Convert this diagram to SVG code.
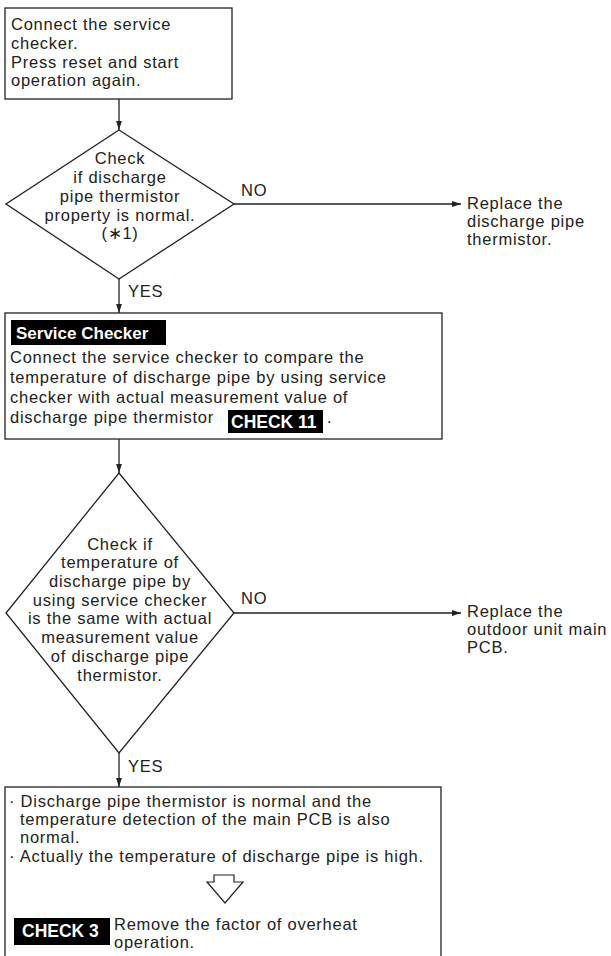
<svg xmlns="http://www.w3.org/2000/svg" width="611" height="956" viewBox="0 0 611 956">
<style>
.box{fill:#fff;stroke:#222;stroke-width:1.3}
.ln{stroke:#222;stroke-width:1.3;fill:none}
text{font-family:"Liberation Sans",Arial,sans-serif;font-size:16.5px;letter-spacing:0.75px;fill:#222}
.c{text-anchor:middle}
.tag{fill:#000}
.tagt{fill:#fff;font-weight:bold;font-size:17.5px;letter-spacing:0}
</style>
<defs>
<marker id="ah" viewBox="0 0 10 10" refX="10" refY="5" markerWidth="9" markerHeight="9" markerUnits="userSpaceOnUse" orient="auto"><path d="M0,1.8 L10,5 L0,8.2 z" fill="#222"/></marker>
</defs>
<rect width="611" height="956" fill="#fff"/>
<g id="connectors">
<line class="ln" x1="119" y1="99" x2="119" y2="130" marker-end="url(#ah)"/>
<line class="ln" x1="234" y1="204" x2="461" y2="204" marker-end="url(#ah)"/>
<text x="241" y="196">NO</text>
<line class="ln" x1="119" y1="279" x2="119" y2="313" marker-end="url(#ah)"/>
<text x="128" y="297">YES</text>
<line class="ln" x1="119" y1="439" x2="119" y2="473" marker-end="url(#ah)"/>
<line class="ln" x1="234" y1="613" x2="461" y2="613" marker-end="url(#ah)"/>
<text x="241" y="604">NO</text>
<line class="ln" x1="119" y1="753" x2="119" y2="787" marker-end="url(#ah)"/>
<text x="128" y="772">YES</text>
</g>
<g id="start">
<rect class="box" x="5" y="8" width="227" height="91"/>
<text x="11" y="30">Connect the service</text>
<text x="11" y="49">checker.</text>
<text x="11" y="68">Press reset and start</text>
<text x="11" y="86">operation again.</text>
</g>
<g id="check1">
<polygon class="box" points="119,130 234,204 119,279 6,204"/>
<text class="c" x="120" y="164">Check</text>
<text class="c" x="120" y="183">if discharge</text>
<text class="c" x="120" y="202">pipe thermistor</text>
<text class="c" x="120" y="221">property is normal.</text>
<text class="c" x="120" y="239">(∗1)</text>
</g>
<g id="replace1">
<text x="467" y="209">Replace the</text>
<text x="467" y="227">discharge pipe</text>
<text x="467" y="245">thermistor.</text>
</g>
<g id="service">
<rect class="box" x="5" y="313" width="437" height="126"/>
<rect class="tag" x="11" y="320" width="155" height="25"/>
<text class="tagt" x="16" y="339" style="font-size:17px">Service Checker</text>
<text x="10" y="363">Connect the service checker to compare the</text>
<text x="10" y="383">temperature of discharge pipe by using service</text>
<text x="10" y="403">checker with actual measurement value of</text>
<text x="10" y="423">discharge pipe thermistor</text>
<rect class="tag" x="228" y="410" width="95" height="23"/>
<text class="tagt" x="231" y="428">CHECK 11</text>
<text x="327" y="423">.</text>
</g>
<g id="check2">
<polygon class="box" points="119,473 234,613 119,753 6,613"/>
<text class="c" x="120" y="550">Check if</text>
<text class="c" x="120" y="568">temperature of</text>
<text class="c" x="120" y="587">discharge pipe by</text>
<text class="c" x="120" y="606">using service checker</text>
<text class="c" x="120" y="624">is the same with actual</text>
<text class="c" x="120" y="643">measurement value</text>
<text class="c" x="120" y="662">of discharge pipe</text>
<text class="c" x="120" y="681">thermistor.</text>
</g>
<g id="replace2">
<text x="467" y="617">Replace the</text>
<text x="467" y="635">outdoor unit main</text>
<text x="467" y="653">PCB.</text>
</g>
<g id="result">
<rect class="box" x="5" y="787" width="436" height="175"/>
<text x="9" y="807">· Discharge pipe thermistor is normal and the</text>
<text x="20" y="825">temperature detection of the main PCB is also</text>
<text x="20" y="843">normal.</text>
<text x="9" y="862">· Actually the temperature of discharge pipe is high.</text>
<polygon points="214,875 234,875 234,882 243,882 225,903 207,882 214,882" fill="#fff" stroke="#222" stroke-width="1.2"/>
<rect class="tag" x="14" y="918" width="96" height="27"/>
<text class="tagt" x="22" y="937">CHECK 3</text>
<text x="114" y="930">Remove the factor of overheat</text>
<text x="114" y="948">operation.</text>
</g>
</svg>
